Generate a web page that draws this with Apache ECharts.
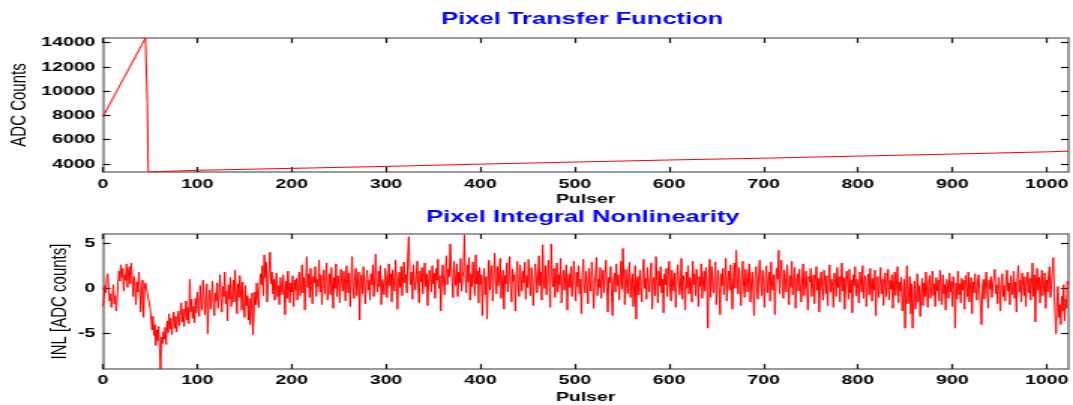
<!DOCTYPE html>
<html>
<head>
<meta charset="utf-8">
<script src="https://cdn.jsdelivr.net/npm/echarts@6/dist/echarts.min.js"></script>
<style>
  html, body { margin: 0; padding: 0; background: #fff; overflow: hidden; }
  /* the reference figure is stretched sideways, so draw narrow and stretch */
  #chart { width: 715px; height: 405px; transform: scaleX(1.5007); transform-origin: 0 0; }
</style>
</head>
<body>
<div id="chart"></div>
<script>
const pulserTicks = [0, 100, 200, 300, 400, 500, 600, 700, 800, 900, 1000]
const adcTicks = [4000, 6000, 8000, 10000, 12000, 14000]
const inlTicks = [-5, 0, 5]

// transfer function vertices (pulser, ADC counts)
const transferPulser = [0, 45, 47, 48, 100, 200, 300, 400, 500, 600, 700, 800, 900, 1000, 1023]
const transferCounts = [7900, 14390, 9000, 3340, 3480, 3640, 3800, 3990, 4160, 4330, 4480, 4650, 4820, 5000, 5060]

// INL per pulser step 0..1023
const inlValues = [
  -2.0, -1.2, 0.3, -0.5, 1.1, 1.6, 0.2, -1.4, -0.6, -2.1, -0.9, 0.4, -1.7, -0.8, -2.5, -1.3,
  0.6, 1.9, 0.8, 2.6, 1.2, 2.2, -0.3, 1.5, 0.9, 2.7, 0.1, 1.8, 2.4, 0.5, 2.8, 1.0,
  -0.9, 1.3, 0.2, -1.8, 0.7, -0.4, 1.8, 0.3, -2.6, -0.7, 0.9, -3.2, -0.2, 0.6, 0.0, 0.0,
  0.0, 0.0, -2.2, -3.4, -4.6, -3.1, -5.2, -4.0, -6.3, -4.6, -5.8, -4.2, -6.6, -8.9, -5.4, -6.1,
  -4.8, -5.6, -4.3, -6.2, -3.6, -4.9, -2.8, -4.5, -3.3, -5.1, -3.9, -2.6, -4.4, -3.1, -4.8, -3.4,
  -2.5, -4.1, -3.0, -1.6, -3.7, -2.3, -4.2, -2.8, -1.4, -3.5, -2.1, -3.9, 1.0, -2.6, -1.2, -3.3,
  -2.0, -3.8, -1.1, -2.7, -0.4, -1.9, -3.1, 0.3, -1.5, -2.4, 0.9, -0.8, -2.9, -1.3, 0.5, -5.0,
  -1.6, -0.2, -2.3, -0.9, 0.8, -1.8, -3.0, -0.5, -1.4, 0.6, -2.2, -0.7, 1.5, -1.1, -2.6, 0.2,
  -0.9, 1.8, -1.7, -0.3, -3.6, 0.4, -1.2, 1.2, -2.0, -0.6, 0.9, -1.5, 2.0, -0.4, -2.8, 0.5,
  -1.0, 1.4, -0.2, -2.4, 0.7, -1.6, -3.2, 0.3, -1.9, -0.8, -3.5, -1.1, -4.0, -2.2, -0.5, -5.1,
  -2.6, -0.4, -1.8, 0.6, -1.2, -2.1, 0.2, 1.6, 0.4, 2.5, -0.8, 3.7, 1.2, 2.9, -1.5, 0.8,
  2.1, 4.0, 0.5, 1.8, -0.6, 1.0, -1.3, 0.7, 1.7, -0.9, 0.3, -1.8, 1.2, 0.1, -0.7, 1.5,
  -0.3, -2.9, 0.8, -1.1, 1.9, 0.2, -1.6, 0.6, -0.4, 1.4, -2.0, 0.9, -0.2, 1.1, -1.3, 0.5,
  1.8, -0.8, 0.4, 2.6, -0.5, 1.2, -2.4, 0.9, 3.5, 0.1, 1.6, -1.0, 2.2, 0.3, -1.7, 1.3,
  0.6, 2.4, -0.9, 1.0, 0.2, 3.1, -0.4, 1.5, -1.8, 0.7, 2.0, -0.6, 1.1, 2.8, -1.3, 0.4,
  1.6, -0.7, 2.3, 0.5, -2.2, 1.2, 0.0, 2.7, -0.9, 1.4, 0.3, -1.6, 2.1, 0.8, -0.3, 1.9,
  0.4, -1.4, 2.5, 1.0, -0.5, 1.7, -2.0, 0.9, 3.5, 0.2, -1.1, 1.3, 2.2, -0.8, 0.6, 1.8,
  -3.5, 0.7, 1.5, -0.6, 2.4, 0.3, -1.7, 1.1, 2.0, -0.2, 0.9, -1.3, 1.6, 0.4, 2.6, -0.9,
  1.2, 3.8, 0.6, -0.4, 1.9, 0.2, 2.5, -1.8, 1.0, 0.5, -0.7, 2.2, 1.4, -1.0, 0.8, 2.7,
  0.3, 1.6, -1.5, 2.0, 0.9, -0.3, 3.1, 1.2, -2.3, 0.7, 1.8, 0.1, 2.4, -0.8, 1.3, 2.9,
  0.6, 1.5, -0.5, 3.4, 5.7, 2.1, 0.4, 1.8, -1.2, 2.6, 0.9, -0.2, 1.4, 3.0, 0.3, -1.6,
  1.9, 0.7, 2.3, -0.6, 1.2, 2.8, 0.2, 1.6, -1.9, 0.8, 2.0, 1.1, -0.4, 2.5, 0.5, 1.7,
  -1.1, 2.2, 0.9, 3.2, 0.0, 1.4, -2.5, 1.0, 2.6, 0.6, -0.7, 1.9, 3.6, 0.4, 2.1, 1.3,
  4.9, 2.4, 0.8, -1.0, 3.0, 1.5, 0.3, 2.7, -0.9, 1.8, 0.6, 3.3, -0.3, 1.2, 2.0, 5.9,
  1.1, -0.5, 2.6, 0.7, 3.4, -1.3, 1.6, 0.2, 2.9, 1.0, -0.8, 3.7, 0.5, 1.9, -1.6, 2.3,
  0.4, 1.5, -3.0, 0.9, 2.2, -0.7, 1.3, -3.4, 0.6, 3.1, -0.2, 1.7, 2.5, -1.4, 0.8, 3.9,
  1.2, -0.6, 2.4, 0.3, 1.6, 3.3, -1.1, 0.9, 2.0, -2.3, 1.4, 0.5, 2.8, -0.4, 1.1, 3.5,
  0.2, -1.5, 2.1, 0.8, 1.5, -2.5, 1.0, 3.0, 0.4, -0.9, 2.6, 1.3, -0.3, 1.9, 0.6, 2.9,
  -1.2, 1.4, 0.1, 3.2, 0.7, -0.8, 2.3, 1.1, -1.9, 0.5, 2.7, 1.6, -0.5, 0.9, 3.6, 0.3,
  1.8, -1.3, 4.8, 1.2, 0.0, 2.5, -0.7, 1.4, 3.1, 0.6, -2.1, 4.9, 1.7, 0.2, 2.2, -1.0,
  1.0, 2.8, -0.4, 1.5, 0.4, 3.3, -1.6, 0.8, 2.0, -0.2, 1.3, 2.6, -2.4, 0.7, 1.6, 0.1,
  2.4, -0.9, 1.1, 3.0, 0.5, -1.4, 1.8, 0.2, 2.5, -0.6, 1.0, -2.8, 1.5, 3.2, 0.3, -0.5,
  1.9, 0.6, -1.7, 2.2, 0.9, -0.3, 2.9, 1.2, -2.2, 0.4, 1.6, 3.4, -0.8, 1.0, 0.1, 2.3,
  -1.1, 0.8, 2.0, -0.5, 1.4, 3.1, 0.2, -2.6, 1.2, 0.6, 2.4, -0.9, -3.0, 0.9, 1.7, -0.4,
  2.7, 0.3, 1.5, -1.3, 0.7, 3.0, -0.1, 4.4, 1.0, -1.8, 2.1, 0.5, -0.6, 1.8, 2.9, -1.0,
  0.9, 1.6, -2.0, 0.4, 2.5, -3.4, 0.8, 1.3, -0.7, 2.0, 0.2, -1.5, 1.7, 3.2, 0.0, 1.1,
  -1.2, 2.3, 0.7, -0.4, 1.5, 2.8, -2.3, 0.6, 1.2, -0.8, 3.5, 0.9, -1.6, 1.9, 0.3, 2.4,
  -0.5, 1.0, -2.7, 1.6, 0.4, 2.2, -0.9, 1.3, 3.0, 0.1, -1.4, 2.0, 0.8, -0.3, 1.7, -2.1,
  0.6, 2.6, 1.1, -0.7, 0.2, 3.3, -1.2, 1.4, 0.5, -2.4, 1.8, 0.0, 2.5, -0.6, 1.2, 0.7,
  -1.5, 3.0, 0.4, 1.6, -0.8, 2.1, 0.9, -2.0, 1.3, 0.2, 2.7, -1.1, 0.8, 1.9, -0.3, 2.3,
  0.5, -4.4, 1.7, 3.2, -1.0, 2.4, 0.6, -0.5, 1.4, 2.9, -1.8, 0.8, 2.0, 0.1, -2.9, 1.6,
  0.3, 2.2, -0.7, 1.0, 3.3, -1.4, 0.7, 1.9, -0.2, 2.6, 0.4, -2.3, 1.2, 2.8, 0.0, 4.2,
  1.5, -0.6, 2.3, 0.8, -1.9, 1.4, 3.0, 0.2, -1.0, 2.1, 0.9, -0.4, 1.7, 2.7, -1.5, 0.6,
  1.8, -0.3, -3.0, 1.1, 2.4, 0.3, -1.2, 1.6, 3.1, 0.7, -0.8, 2.0, 0.4, -2.1, 1.3, 2.5,
  -0.5, 0.9, 1.8, -1.4, 2.9, 0.5, -0.2, 1.5, -2.9, 0.8, 2.2, 1.0, 4.2, -0.6, 1.7, 3.1,
  0.2, -1.1, 2.0, 1.2, -0.4, 2.6, 0.6, -1.8, 1.4, 0.1, 3.0, -0.7, 1.1, 2.3, -2.2, 0.8,
  1.6, -0.3, 2.1, 0.4, -1.5, 1.2, 2.7, -0.8, 0.5, 1.9, -0.1, -2.4, 1.3, 0.7, 2.2, -0.9,
  0.3, 1.5, -1.7, 0.9, 2.4, -0.2, 1.1, -2.6, 0.6, 1.8, 0.0, -1.3, 2.0, 0.8, -0.6, 1.4,
  -1.9, 0.5, 2.6, -0.4, 1.0, 0.2, -2.1, 1.7, 0.7, -0.9, 2.3, 0.1, 1.3, -1.5, 0.6, 2.8,
  -0.3, 1.2, -2.3, 0.4, 1.9, 0.8, -1.2, 2.1, -0.5, 0.9, -2.7, 1.5, 0.3, 2.4, -0.8, 1.0,
  0.0, -1.6, 1.8, 0.6, -0.4, 2.5, -1.1, 0.8, 1.4, -2.0, 0.3, 1.6, -0.7, 2.2, 0.5, -1.4,
  1.1, -0.2, 2.0, -3.0, 0.7, 1.3, -1.0, 0.4, 2.3, -0.6, 1.0, -1.9, 0.2, 1.7, -0.9, 0.6,
  2.1, -1.3, 0.9, -0.1, 1.5, -2.2, 0.4, 1.8, -0.8, 0.3, 2.4, -1.6, 0.7, -0.3, 1.2, -2.5,
  -0.6, 1.0, -4.4, 0.2, 2.5, -1.7, -0.4, 1.3, -2.8, 0.5, -4.4, -1.2, 0.8, -2.3, -0.7, 1.6,
  -1.5, 0.3, -3.1, -0.5, 1.1, -1.9, 0.6, -0.9, 1.8, -0.2, -2.1, 0.7, 1.4, -1.1, 0.2, 1.9,
  -0.8, 0.5, -2.0, 1.2, -0.3, 0.9, -1.4, 2.0, 0.1, -1.8, 1.5, -0.6, 0.4, -2.4, 1.0, 0.3,
  -1.1, 1.7, -0.4, 0.8, -2.0, 1.3, 0.0, -4.4, 0.6, -1.2, 1.9, -0.7, 0.5, -1.6, 1.1, -0.2,
  0.9, -2.3, 1.4, 0.2, -0.9, 1.8, -1.5, 0.4, 1.2, -2.8, 0.7, -0.5, 1.6, 0.0, -1.3, 0.8,
  1.5, -0.7, -1.9, -4.0, 0.3, 1.0, -1.2, 0.6, 1.8, -0.4, -2.2, 0.9, -0.1, 1.3, -1.0, 0.5,
  1.1, 2.1, -0.6, 0.4, -1.7, 1.2, 0.2, -2.5, 0.8, 1.6, -0.9, 0.3, -1.4, 1.0, 2.0, -0.3,
  0.6, -1.8, 1.4, 0.1, -0.7, 1.9, -1.1, 0.7, -2.6, 1.2, 2.5, -0.4, 0.9, -1.5, 1.7, 0.3,
  -0.8, 1.3, -2.0, 0.5, 1.8, -0.5, 1.1, -1.3, 0.4, 2.8, -0.9, 1.5, -3.7, 0.8, 2.2, -0.2,
  1.2, -1.6, 0.6, 2.0, -0.8, 0.3, 1.7, -2.2, 0.9, -0.4, 1.4, 2.4, -1.0, 0.5, 1.9, 3.4,
  -0.6, -2.8, -5.0, -1.4, 0.2, -3.2, -1.8, -4.0, -0.9, -2.5, 0.4, -3.6, -1.2, -2.2, 0.8, 0.5,
]

const FONT = 'Liberation Sans, Arial, sans-serif'
const frameColor = '#7a7a7a'
const tickStyle = { color: '#111', width: 1.2 }
const labelStyle = { color: '#000', fontWeight: 'bold', fontSize: 13, fontFamily: FONT }
const plainNumber = (v) => String(v)

const xAxisFor = (gridIndex, position, margin, nameGap) => ({
  type: 'value',
  gridIndex,
  position,
  min: 0,
  max: 1023,
  axisLine: { show: true, onZero: false, lineStyle: { color: frameColor, width: 1.5 } },
  axisTick: { show: true, inside: true, length: 5, customValues: pulserTicks, lineStyle: tickStyle },
  axisLabel: { show: position === 'bottom', customValues: pulserTicks, margin, formatter: plainNumber, ...labelStyle },
  splitLine: { show: false },
  name: position === 'bottom' ? 'Pulser' : '',
  nameLocation: 'middle',
  nameGap,
  nameMoveOverlap: false,
  nameTextStyle: { ...labelStyle },
})

const yAxisFor = (gridIndex, position, range, ticks, name, nameGap) => ({
  type: 'value',
  gridIndex,
  position,
  min: range[0],
  max: range[1],
  axisLine: { show: true, onZero: false, lineStyle: { color: frameColor, width: 1.5 } },
  axisTick: { show: true, inside: true, length: 5, customValues: ticks, lineStyle: tickStyle },
  axisLabel: { show: position === 'left', customValues: ticks, margin: 5, formatter: plainNumber, ...labelStyle },
  splitLine: { show: false },
  name: position === 'left' ? name : '',
  nameLocation: 'middle',
  nameGap,
  nameMoveOverlap: false,
  nameTextStyle: { color: '#000', fontSize: 15, fontFamily: FONT },
})

const chart = echarts.init(document.getElementById('chart'), null, { renderer: 'canvas' })

chart.setOption({
  animation: false,
  backgroundColor: '#fff',
  title: [
    {
      text: 'Pixel Transfer Function',
      left: 294,
      top: 11,
      padding: 0,
      textStyle: { color: '#0000ff', fontSize: 17, fontWeight: 'bold', fontFamily: FONT },
    },
    {
      text: 'Pixel Integral Nonlinearity',
      left: 284,
      top: 209,
      padding: 0,
      textStyle: { color: '#0000ff', fontSize: 17, fontWeight: 'bold', fontFamily: FONT },
    },
  ],
  grid: [
    { left: 68.6, right: 3.1, top: 38, height: 134, outerBoundsMode: 'none' },
    { left: 68.6, right: 3.1, top: 234, height: 135, outerBoundsMode: 'none' },
  ],
  xAxis: [
    xAxisFor(0, 'bottom', 6, 21),
    xAxisFor(0, 'top', 6, 0),
    xAxisFor(1, 'bottom', 5, 22),
    xAxisFor(1, 'top', 5, 0),
  ],
  yAxis: [
    yAxisFor(0, 'left', [3340, 14390], adcTicks, 'ADC Counts', 48),
    yAxisFor(0, 'right', [3340, 14390], adcTicks, '', 0),
    yAxisFor(1, 'left', [-8.9, 6.0], inlTicks, 'INL [ADC counts]', 21),
    yAxisFor(1, 'right', [-8.9, 6.0], inlTicks, '', 0),
  ],
  series: [
    {
      type: 'line',
      xAxisIndex: 0,
      yAxisIndex: 0,
      data: transferPulser.map((x, i) => [x, transferCounts[i]]),
      showSymbol: false,
      lineStyle: { color: '#ff0000', width: 1 },
      clip: true,
    },
    {
      type: 'line',
      xAxisIndex: 2,
      yAxisIndex: 2,
      data: inlValues.map((v, i) => [i, v]),
      showSymbol: false,
      lineStyle: { color: '#ff0000', width: 1 },
      clip: true,
    },
  ],
})
</script>
</body>
</html>
